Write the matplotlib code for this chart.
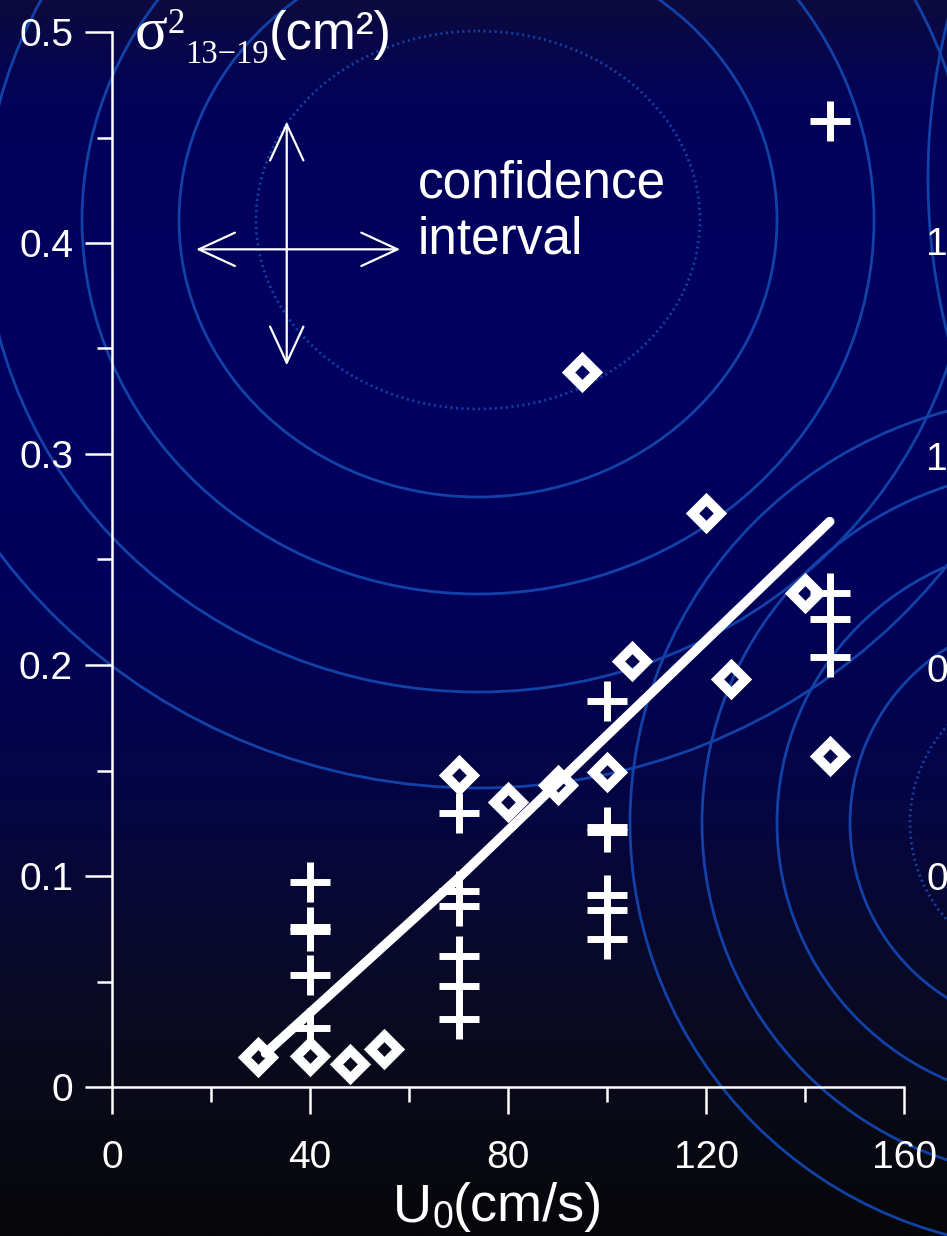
import matplotlib
matplotlib.use("Agg")
import numpy as np
import matplotlib.pyplot as plt
from matplotlib.patches import Ellipse
from matplotlib.colors import LinearSegmentedColormap
from matplotlib.ticker import FixedLocator, MultipleLocator

plt.rcParams['font.family'] = ['Liberation Sans', 'DejaVu Sans']

# ---------------------------------------------------------------- data
# open diamonds: variance sigma^2 (13-19) against flow speed U0
diamond_u = [29.5, 40, 48, 55, 70, 80, 90, 95, 100, 105, 120, 125, 140, 145]
diamond_var = [0.014, 0.0145, 0.011, 0.018, 0.148, 0.135, 0.143, 0.339,
               0.1495, 0.202, 0.272, 0.1935, 0.234, 0.157]

# crosses: repeated runs at fixed speeds
cross_u = [40] * 5 + [70] * 6 + [100] * 6 + [145] * 4
cross_var = [0.097, 0.076, 0.074, 0.053, 0.028,
             0.130, 0.093, 0.086, 0.062, 0.048, 0.032,
             0.183, 0.123, 0.121, 0.091, 0.084, 0.070,
             0.458, 0.234, 0.222, 0.204]

# linear trend through the data
fit_u = [31, 70, 145]
fit_var = [0.016, 0.099, 0.268]

# confidence-interval whiskers (data units)
ci_u_range = (17.0, 58.2)
ci_u_level = 0.397
ci_var_range = (0.342, 0.4575)
ci_var_at = 35.3

xticks = [0, 40, 80, 120, 160]
xtick_labels = ['0', '40', '80', '120', '160']
yticks = [0, 0.1, 0.2, 0.3, 0.4, 0.5]
ytick_labels = ['0', '0.1', '0.2', '0.3', '0.4', '0.5']

# ---------------------------------------------------------------- figure
W, H = 947, 1236
fig = plt.figure(figsize=(W / 100, H / 100), dpi=100)

# background layer in pixel coordinates (y grows downward)
bg = fig.add_axes([0, 0, 1, 1])
bg.set_xlim(0, W)
bg.set_ylim(H, 0)
bg.axis('off')

grad_stops = [(0, (12, 10, 62)), (100, (2, 2, 90)), (350, (0, 0, 96)),
              (600, (1, 1, 90)), (800, (5, 5, 68)), (950, (9, 9, 44)),
              (1087, (10, 10, 26)), (1236, (7, 7, 10))]
cmap = LinearSegmentedColormap.from_list(
    'bg', [(p / H, tuple(c / 255 for c in col)) for p, col in grad_stops])
grad = np.linspace(0, 1, 600).reshape(-1, 1)
bg.imshow(grad, cmap=cmap, extent=(0, W, H, 0), aspect='auto',
          interpolation='bilinear')

ring_color = '#1242a8'
ring_lw = 2.0
dot_style = (0, (0.7, 1.3))
# rings around upper centre
cA = (478, 220)
bg.add_patch(Ellipse(cA, 2 * 222, 2 * 189, fill=False, ec=ring_color,
                     lw=2.0, ls=dot_style))
for rx, ry in [(299, 277), (396, 374), (494, 472), (591, 568)]:
    bg.add_patch(Ellipse(cA, 2 * rx, 2 * ry, fill=False, ec=ring_color,
                         lw=ring_lw))
# rings around lower right
cB = (1056, 823)
bg.add_patch(Ellipse(cB, 2 * 146, 2 * 146, fill=False, ec=ring_color,
                     lw=2.0, ls=dot_style))
for r in [206, 279, 354, 426]:
    bg.add_patch(Ellipse(cB, 2 * r, 2 * r, fill=False, ec=ring_color,
                         lw=ring_lw))
# ring at far right
bg.add_patch(Ellipse((1570, 178), 2 * 642, 2 * 642, fill=False,
                     ec=ring_color, lw=ring_lw))

# ---------------------------------------------------------------- main axes
left, right, top, bottom = 112, 904, 32, 1087
ax = fig.add_axes([left / W, (H - bottom) / H, (right - left) / W,
                   (bottom - top) / H])
ax.patch.set_alpha(0)
ax.set_xlim(0, 160)
ax.set_ylim(0, 0.5)
for s in ['top', 'right']:
    ax.spines[s].set_visible(False)
for s in ['left', 'bottom']:
    ax.spines[s].set_color('white')
    ax.spines[s].set_linewidth(1.8)

ax.xaxis.set_major_locator(FixedLocator(xticks))
ax.set_xticklabels(xtick_labels)
ax.xaxis.set_minor_locator(MultipleLocator(20))
ax.yaxis.set_major_locator(FixedLocator(yticks))
ax.set_yticklabels(ytick_labels)
ax.yaxis.set_minor_locator(MultipleLocator(0.05))
ax.tick_params(which='major', direction='out', length=19.5, width=1.8,
               colors='white', labelsize=28)
ax.tick_params(which='minor', direction='out', length=10.5, width=1.8,
               colors='white')
ax.tick_params(axis='y', which='major', pad=8.5)
ax.tick_params(axis='x', which='major', pad=19)

ax.plot(fit_u, fit_var, color='white', lw=6.8, solid_capstyle='round',
        solid_joinstyle='round', zorder=3)
ax.plot(diamond_u, diamond_var, ls='none', marker='D', ms=14.5,
        mfc='none', mec='white', mew=6.8, zorder=4, clip_on=False)
ax.plot(cross_u, cross_var, ls='none', marker='+', ms=28.5,
        mec='white', mew=5, zorder=4, clip_on=False)

arrow_kw = dict(arrowstyle='<->,head_length=1.3,head_width=0.6',
                color='white', lw=1.6, shrinkA=0, shrinkB=0,
                mutation_scale=20)
ax.annotate('', xy=(ci_u_range[1], ci_u_level),
            xytext=(ci_u_range[0], ci_u_level), arrowprops=arrow_kw)
ax.annotate('', xy=(ci_var_at, ci_var_range[1]),
            xytext=(ci_var_at, ci_var_range[0]), arrowprops=arrow_kw)

txt = dict(color='white', va='baseline', ha='left')
bg.text(418, 197, 'confidence', fontsize=37, **txt)
bg.text(418, 253, 'interval', fontsize=37, **txt)

# ---------------------------------------------------------------- axis titles
fig.canvas.draw()
renderer = fig.canvas.get_renderer()


def chain(pieces, x, base):
    for s, size, family, dy in pieces:
        t = bg.text(x, base + dy, s, fontsize=size, family=family, **txt)
        x = t.get_window_extent(renderer).x1


serif = ['Liberation Serif', 'DejaVu Serif']
sans = ['Liberation Sans', 'DejaVu Sans']
chain([('σ', 44, serif, 0), ('2', 25, serif, -16),
       ('13\u221219', 23.5, serif, 14), ('(cm²)', 38, sans, 0)], 135, 49)
chain([('U', 39, sans, 0), ('0', 27, sans, 7), ('(cm/s)', 39, sans, 0)],
      393, 1221)

# tick labels of the neighbouring panel, cut by the right edge
for yy, s in [(245, '1'), (460, '1'), (672, '0'), (880, '0')]:
    bg.text(926, yy, s, fontsize=28, color='white', va='center', ha='left')

fig.savefig('out.png', dpi=100)
